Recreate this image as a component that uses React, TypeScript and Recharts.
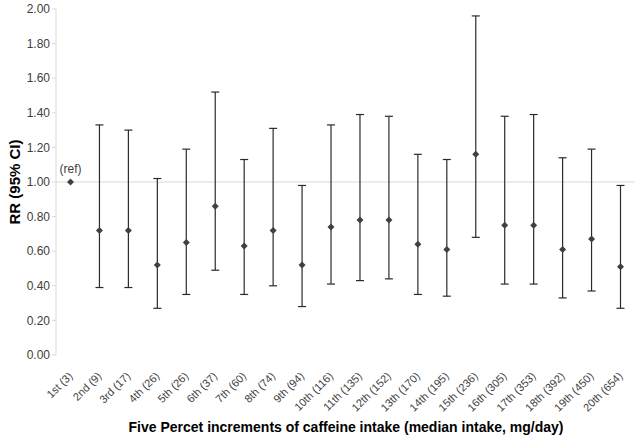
import { ErrorBar, LabelList, Line, LineChart, ReferenceLine, XAxis, YAxis } from "recharts";

const categories = [
  "1st (3)", "2nd (9)", "3rd (17)", "4th (26)", "5th (26)", "6th (37)", "7th (60)",
  "8th (74)", "9th (94)", "10th (116)", "11th (135)", "12th (152)", "13th (170)",
  "14th (195)", "15th (236)", "16th (305)", "17th (353)", "18th (392)", "19th (450)",
  "20th (654)",
];
const rr = [1.0, 0.72, 0.72, 0.52, 0.65, 0.86, 0.63, 0.72, 0.52, 0.74, 0.78, 0.78, 0.64, 0.61, 1.16, 0.75, 0.75, 0.61, 0.67, 0.51];
const lower = [null, 0.39, 0.39, 0.27, 0.35, 0.49, 0.35, 0.40, 0.28, 0.41, 0.43, 0.44, 0.35, 0.34, 0.68, 0.41, 0.41, 0.33, 0.37, 0.27];
const upper = [null, 1.33, 1.30, 1.02, 1.19, 1.52, 1.13, 1.31, 0.98, 1.33, 1.39, 1.38, 1.16, 1.13, 1.96, 1.38, 1.39, 1.14, 1.19, 0.98];
const yTicks = [0, 0.2, 0.4, 0.6, 0.8, 1.0, 1.2, 1.4, 1.6, 1.8, 2.0];

const data = categories.map((name, i) => ({
  name,
  rr: rr[i],
  err: lower[i] == null ? undefined : [rr[i] - lower[i], upper[i] - rr[i]],
  note: i === 0 ? "(ref)" : undefined,
}));

const font = "'Liberation Sans', Arial, sans-serif";

const Diamond = (props: any) => {
  const { cx, cy } = props;
  if (cx == null || cy == null) return null;
  const r = 3.5;
  return (
    <polygon
      points={`${cx},${cy - r} ${cx + r},${cy} ${cx},${cy + r} ${cx - r},${cy}`}
      fill="#404040"
    />
  );
};

const XTick = (props: any) => {
  const { x, y, payload } = props;
  return (
    <g transform={`translate(${x},${y + 11}) rotate(-45)`}>
      <text textAnchor="end" dy="0.35em" fontSize={11} fill="#404040" fontFamily={font}>
        {payload.value}
      </text>
    </g>
  );
};

export default function App() {
  return (
    <div style={{ position: "absolute", left: 0, top: 0 }}>
      <LineChart
        width={639}
        height={440}
        data={data}
        margin={{ top: 9, right: 4, bottom: 0, left: 0 }}
      >
        <XAxis
          dataKey="name"
          axisLine={false}
          tickLine={false}
          interval={0}
          tick={<XTick />}
          height={85}
          padding={{ left: 14.5, right: 14.5 }}
        />
        <YAxis
          domain={[0, 2]}
          ticks={yTicks}
          width={56}
          tickFormatter={(v) => v.toFixed(2)}
          axisLine={{ stroke: "#d9d9d9" }}
          tickLine={{ stroke: "#d9d9d9" }}
          tickSize={4}
          tick={{ fontSize: 12, fill: "#404040", fontFamily: font }}
        />
        <ReferenceLine y={1} stroke="#d9d9d9" />
        <Line
          dataKey="rr"
          stroke="none"
          dot={<Diamond />}
          activeDot={false}
          isAnimationActive={false}
        >
          <ErrorBar dataKey="err" direction="y" width={4} stroke="#2b2b2b" strokeWidth={1.2} />
          <LabelList dataKey="note" position="top" offset={9} fontSize={12} fill="#404040" fontFamily={font} />
        </Line>
        <text x={14} y={182} transform="rotate(-90 14 182)" textAnchor="middle" dominantBaseline="central" fontSize={15} fontWeight="bold" fontFamily={font} fill="#000">
          RR (95% CI)
        </text>
        <text x={346} y={427} textAnchor="middle" dominantBaseline="central" fontSize={14} fontWeight="bold" fontFamily={font} fill="#000">
          Five Percet increments of caffeine intake (median intake, mg/day)
        </text>
      </LineChart>
    </div>
  );
}
